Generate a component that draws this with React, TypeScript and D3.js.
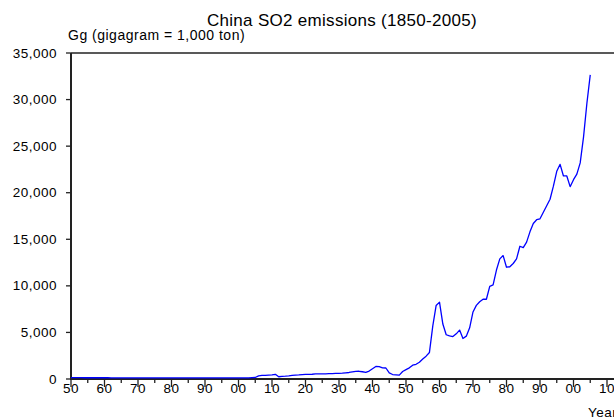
import React from "react";
import * as d3 from "d3";

const startYear = 1850;
const emissions: number[] = [
  // 1850-1859
  140, 140, 138, 138, 136, 136, 135, 134, 134, 133,
  // 1860-1869
  132, 132, 130, 130, 129, 128, 128, 127, 126, 126,
  // 1870-1879
  125, 125, 124, 123, 123, 122, 122, 121, 120, 120,
  // 1880-1889
  120, 119, 119, 118, 118, 118, 117, 117, 116, 116,
  // 1890-1899
  116, 115, 115, 115, 114, 114, 114, 113, 113, 113,
  // 1900-1909
  115, 118, 122, 128, 140, 160, 340, 380, 390, 420,
  // 1910-1919
  440, 500, 240, 280, 300, 330, 380, 420, 440, 470,
  // 1920-1929
  490, 500, 510, 540, 550, 560, 560, 570, 580, 600,
  // 1930-1939
  610, 620, 660, 700, 760, 820, 830, 780, 720, 850,
  // 1940-1949
  1100, 1340, 1330, 1200, 1180, 650, 480, 450, 420, 800,
  // 1950-1959
  1000, 1200, 1480, 1580, 1800, 2150, 2450, 2850, 5700, 7900,
  // 1960-1969
  8250, 5900, 4750, 4620, 4550, 4850, 5250, 4350, 4600, 5500,
  // 1970-1979
  7200, 7900, 8300, 8560, 8560, 9950, 10100, 11700, 12900, 13250,
  // 1980-1989
  12000, 12050, 12400, 12900, 14250, 14100, 14700, 15800, 16700, 17100,
  // 1990-1999
  17200, 17900, 18600, 19300, 20700, 22300, 23050, 21800, 21800, 20650,
  // 2000-2005
  21400, 22000, 23200, 26000, 29600, 32650,
];
const yTicks = [0, 5000, 10000, 15000, 20000, 25000, 30000, 35000];
const xMajorTicks = [1850, 1860, 1870, 1880, 1890, 1900, 1910, 1920, 1930, 1940, 1950, 1960, 1970, 1980, 1990, 2000, 2010];
const titleText = "China SO2 emissions (1850-2005)";
const unitText = "Gg (gigagram = 1,000 ton)";
const xAxisLabel = "Year";

const W = 614;
const H = 419;
const left = 71;
const top = 53;
const bottom = 379;

export default function App() {
  const x = d3.scaleLinear().domain([1850, 2010]).range([left, 607]);
  const y = d3.scaleLinear().domain([0, 35000]).range([bottom, top]);
  const data = emissions.map((v, i) => ({ year: startYear + i, v }));
  const line = d3
    .line<{ year: number; v: number }>()
    .x((d) => x(d.year))
    .y((d) => y(d.v));
  const minorTicks = xMajorTicks.slice(0, -1).map((t) => t + 5);
  const fmt = d3.format(",");
  const font = "'Liberation Sans', Arial, sans-serif";
  const axisColor = "#222";

  return (
    <svg
      width={W}
      height={H}
      style={{ position: "absolute", left: 0, top: 0, background: "#fff" }}
      fontFamily={font}
    >
      <rect x={0} y={0} width={W} height={H} fill="#fff" />
      <text x={342} y={26} fontSize={17} textAnchor="middle" letterSpacing={0.3} fill="#000">
        {titleText}
      </text>
      <text x={68} y={40} fontSize={14} letterSpacing={0.5} fill="#000">
        {unitText}
      </text>

      {/* frame lines */}
      <line x1={left} x2={W} y1={top} y2={top} stroke={axisColor} strokeWidth={1.5} />
      <line x1={left} x2={left} y1={top} y2={bottom} stroke={axisColor} strokeWidth={2} />
      <line x1={left - 1} x2={W} y1={bottom} y2={bottom} stroke={axisColor} strokeWidth={2} />

      {/* y ticks */}
      {yTicks.map((t) => (
        <g key={t}>
          <line x1={left - 5} x2={left} y1={y(t)} y2={y(t)} stroke={axisColor} strokeWidth={1.3} />
          <text
            x={57}
            y={y(t) + 4.5}
            fontSize={13.5}
            letterSpacing={0.5}
            textAnchor="end"
            fill="#000"
          >
            {fmt(t)}
          </text>
        </g>
      ))}

      {/* x ticks */}
      {xMajorTicks.map((t) => (
        <g key={t}>
          <line x1={x(t)} x2={x(t)} y1={bottom} y2={bottom + 8} stroke={axisColor} strokeWidth={1.3} />
          <text x={x(t)} y={393} fontSize={13.5} letterSpacing={0.5} textAnchor="middle" fill="#000">
            {String(t % 100).padStart(2, "0")}
          </text>
        </g>
      ))}
      {minorTicks.map((t) => (
        <line key={t} x1={x(t)} x2={x(t)} y1={bottom} y2={bottom + 4} stroke={axisColor} strokeWidth={1.3} />
      ))}

      <text x={588} y={417} fontSize={13.5} letterSpacing={0.5} fill="#000">
        {xAxisLabel}
      </text>

      <path d={line(data) || ""} fill="none" stroke="#0000ff" strokeWidth={1.3} strokeLinejoin="round" />
    </svg>
  );
}
